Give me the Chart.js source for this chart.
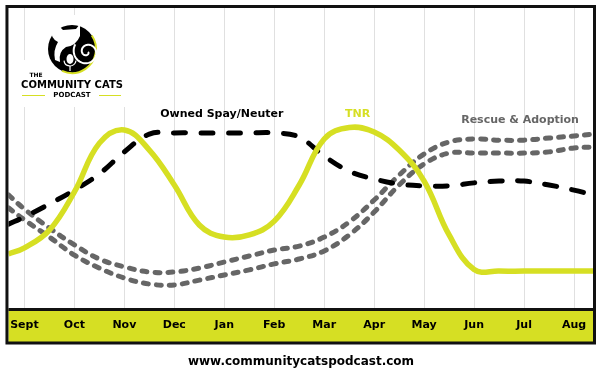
<!DOCTYPE html>
<html>
<head>
<meta charset="utf-8">
<script src="https://cdn.jsdelivr.net/npm/chart.js@4/dist/chart.umd.min.js"></script>
<style>
  html, body { margin: 0; padding: 0; background: #fff; }
  #wrap { width: 600px; height: 381px; position: relative; }
</style>
</head>
<body>
<div id="wrap"><canvas id="c" width="600" height="381"></canvas></div>
<script>
// ---- data ----
const months = ['Sept','Oct','Nov','Dec','Jan','Feb','Mar','Apr','May','Jun','Jul','Aug'];
// sample positions in month units (0 = Sept ... 11 = Aug); first/last are the plot edges
const samplePos = [-0.32, 0, 0.5, 1, 1.5, 2, 2.5, 3, 3.5, 4, 4.5, 5, 5.5, 6, 6.5, 7, 7.5, 8, 8.5, 9, 9.5, 10, 10.5, 11, 11.38];
const tnr = [18.3, 20.3, 26.2, 38.9, 55.1, 59.5, 52.8, 41.2, 27.9, 23.9, 24.6, 29.2, 41.2, 56.5, 60.3, 58.8, 52.8, 42.5, 24.6, 13.1, 12.6, 12.6, 12.6, 12.6, 12.6];
const ownedSpayNeuter = [28.2, 30.6, 34.9, 39.5, 44.9, 52.2, 58.1, 58.5, 58.5, 58.5, 58.5, 58.5, 57.1, 50.8, 45.8, 43.2, 41.5, 40.9, 40.9, 41.9, 42.5, 42.5, 41.2, 39.5, 37.9];
const rescueUpper = [37.9, 33.2, 26.9, 21.3, 16.6, 14.0, 12.3, 12.3, 13.6, 15.6, 17.6, 19.6, 20.9, 23.9, 28.9, 36.2, 44.5, 51.5, 55.5, 56.5, 56.1, 56.1, 56.8, 57.5, 58.1];
const rescueLower = [33.6, 29.6, 23.9, 17.9, 13.6, 10.3, 8.3, 8.0, 9.6, 11.3, 13.0, 15.0, 16.6, 19.3, 24.6, 32.2, 41.2, 48.2, 51.8, 51.8, 51.8, 51.8, 52.2, 53.5, 53.8];
const seriesLabels = ['TNR', 'Owned Spay/Neuter', 'Rescue & Adoption'];
const siteUrl = 'www.communitycatspodcast.com';

const LIME = '#d6df23';
const GRAY = '#666666';

function pts(vals) { return vals.map((v, i) => ({ x: samplePos[i], y: v })); }

const bgPlugin = {
  id: 'bg',
  beforeDraw(chart) {
    const ctx = chart.ctx, ca = chart.chartArea;
    ctx.save();
    ctx.fillStyle = '#fff';
    ctx.fillRect(0, 0, chart.width, chart.height);
    // month band
    ctx.fillStyle = LIME;
    ctx.fillRect(ca.left, ca.bottom, ca.right - ca.left, 33);
    ctx.restore();
  },
  afterDraw(chart) {
    const ctx = chart.ctx, ca = chart.chartArea;
    const xs = chart.scales.x, ys = chart.scales.y;
    ctx.save();
    // frame
    ctx.strokeStyle = '#111';
    ctx.lineWidth = 3;
    ctx.strokeRect(ca.left - 1.5, ca.top - 1.5, ca.right - ca.left + 3, ca.bottom - ca.top + 35.5);
    ctx.beginPath();
    ctx.moveTo(ca.left, ca.bottom + 0.5);
    ctx.lineTo(ca.right, ca.bottom + 0.5);
    ctx.stroke();

    // series annotations
    const ann = [
      { t: seriesLabels[1], x: 3.95, y: 64.6, c: '#000' },
      { t: seriesLabels[0], x: 6.67, y: 64.6, c: LIME },
      { t: seriesLabels[2], x: 9.92, y: 62.9, c: GRAY }
    ];
    ctx.font = 'bold 11px "DejaVu Sans"';
    ctx.textAlign = 'center';
    ctx.textBaseline = 'middle';
    ann.forEach(a => {
      ctx.fillStyle = a.c;
      ctx.fillText(a.t, xs.getPixelForValue(a.x), ys.getPixelForValue(a.y));
    });

    // website
    ctx.fillStyle = '#000';
    ctx.font = 'bold 12px "DejaVu Sans"';
    ctx.fillText(siteUrl, chart.width / 2 + 1, 362);

    // logo
    ctx.fillStyle = '#fff';
    ctx.fillRect(14, 60, 118, 47);
    ctx.fillRect(44, 15, 60, 46);
    const cx = 72, cy = 49, r = 24;
    ctx.beginPath();
    ctx.arc(cx, cy, r, 0, Math.PI * 2);
    ctx.fillStyle = '#000';
    ctx.fill();
    ctx.beginPath();
    ctx.arc(cx, cy, r, -0.6, 2.0);
    ctx.strokeStyle = LIME;
    ctx.lineWidth = 2;
    ctx.stroke();
    // cat head
    ctx.fillStyle = '#fff';
    ctx.beginPath();
    ctx.moveTo(52, 30);
    ctx.lineTo(57, 24);
    ctx.lineTo(63, 30);
    ctx.lineTo(76, 29);
    ctx.lineTo(80, 24);
    ctx.lineTo(80, 36);
    ctx.quadraticCurveTo(76, 46, 66, 47);
    ctx.quadraticCurveTo(58, 52, 60, 62);
    ctx.lineTo(55, 60);
    ctx.quadraticCurveTo(53, 50, 58, 42);
    ctx.quadraticCurveTo(50, 38, 52, 30);
    ctx.fill();
    // tail spiral
    ctx.strokeStyle = '#fff';
    ctx.lineWidth = 2;
    ctx.beginPath();
    for (let a = 0; a < Math.PI * 3.2; a += 0.1) {
      const rr = 1 + a * 1.3;
      const px = 87 + rr * Math.cos(a), py = 52 + rr * Math.sin(a);
      if (a === 0) ctx.moveTo(px, py); else ctx.lineTo(px, py);
    }
    ctx.stroke();
    // mic
    ctx.beginPath();
    ctx.ellipse(70, 59, 3.5, 5, 0, 0, Math.PI * 2);
    ctx.fill();
    ctx.beginPath();
    ctx.arc(70, 60, 6, 0.1, Math.PI - 0.1);
    ctx.lineWidth = 1.2;
    ctx.stroke();
    ctx.fillRect(69.4, 66, 1.2, 5);
    // logo text
    ctx.fillStyle = '#000';
    ctx.textAlign = 'center';
    ctx.font = 'bold 6px "DejaVu Sans"';
    ctx.fillText('THE', 36, 75);
    ctx.font = 'bold 10px "DejaVu Sans"';
    ctx.fillText('COMMUNITY CATS', 72, 85);
    ctx.font = 'bold 7px "DejaVu Sans"';
    ctx.fillText('PODCAST', 72, 95);
    ctx.strokeStyle = LIME;
    ctx.lineWidth = 1;
    ctx.beginPath();
    ctx.moveTo(22, 95.5); ctx.lineTo(45, 95.5);
    ctx.moveTo(99, 95.5); ctx.lineTo(121, 95.5);
    ctx.stroke();
    ctx.restore();
  }
};

new Chart(document.getElementById('c'), {
  type: 'line',
  data: {
    datasets: [
      { label: seriesLabels[0], data: pts(tnr), borderColor: LIME, borderWidth: 5.5 },
      { label: seriesLabels[1], data: pts(ownedSpayNeuter), borderColor: '#000', borderWidth: 5, borderDash: [12, 15.5], borderCapStyle: 'round' },
      { label: seriesLabels[2], data: pts(rescueUpper), borderColor: GRAY, borderWidth: 5, borderDash: [5, 8], borderCapStyle: 'round' },
      { label: seriesLabels[2] + ' 2', data: pts(rescueLower), borderColor: GRAY, borderWidth: 5, borderDash: [5, 8], borderCapStyle: 'round' }
    ]
  },
  options: {
    responsive: false,
    animation: false,
    events: [],
    layout: { padding: { left: 7, right: 7, top: 8, bottom: 0 } },
    elements: {
      point: { radius: 0 },
      line: { cubicInterpolationMode: 'default', tension: 0.4, fill: false }
    },
    plugins: { legend: { display: false }, tooltip: { enabled: false } },
    scales: {
      x: {
        type: 'linear',
        min: samplePos[0],
        max: samplePos[samplePos.length - 1],
        afterBuildTicks: s => { s.ticks = months.map((m, i) => ({ value: i })); },
        afterFit: s => { s.height = 72; },
        ticks: {
          callback: (v, i) => months[i],
          autoSkip: false,
          maxRotation: 0,
          padding: 10,
          color: '#000',
          font: { family: 'DejaVu Sans', weight: 'bold', size: 11 }
        },
        grid: { color: '#e0e0e0', lineWidth: 1, drawTicks: false },
        border: { display: false }
      },
      y: { display: false, min: 0, max: 100 }
    }
  },
  plugins: [bgPlugin]
});
</script>
</body>
</html>
